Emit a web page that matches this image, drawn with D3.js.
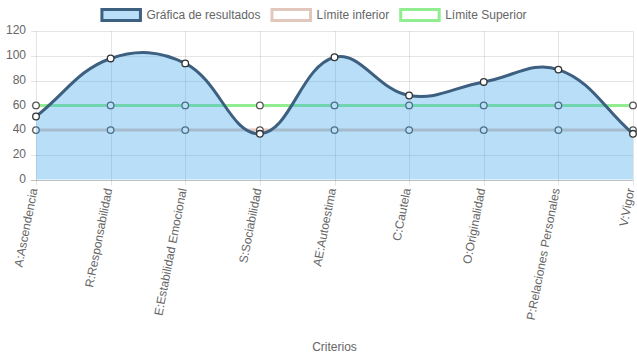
<!DOCTYPE html>
<html><head><meta charset="utf-8">
<script src="https://cdn.jsdelivr.net/npm/d3@7"></script>
<style>body{margin:0;background:#fff}svg{display:block;font-family:"Liberation Sans",Arial,Helvetica,sans-serif}</style>
</head><body>
<svg id="c" width="637" height="359"></svg>
<script>
const categories = ["A:Ascendencia","R:Responsabilidad","E:Estabilidad Emocional","S:Sociabilidad","AE:Autoestima","C:Cautela","O:Originalidad","P:Relaciones Personales","V:Vigor"];
const resultados = [51, 98, 94, 37, 99, 68, 79, 89, 37];
const limiteInferior = [40, 40, 40, 40, 40, 40, 40, 40, 40];
const limiteSuperior = [60, 60, 60, 60, 60, 60, 60, 60, 60];
const yTicks = [0, 20, 40, 60, 80, 100, 120];
const seriesNames = ["Gráfica de resultados", "Límite inferior", "Límite Superior"];
const axisTitle = "Criterios";

const svg = d3.select("#c");
const L = 36, R = 633, T = 31.3, B = 179.5;
const x = d3.scalePoint().domain(categories).range([L, R]);
const y = d3.scaleLinear().domain([0, 120]).range([B, T]);
const txt = "#666";

// grid
const g = svg.append("g");
yTicks.forEach(v => {
  g.append("line").attr("x1", L - 5).attr("x2", R).attr("y1", Math.round(y(v)) + 0.5).attr("y2", Math.round(y(v)) + 0.5)
    .attr("stroke", v === 0 ? "rgba(0,0,0,0.25)" : "rgba(0,0,0,0.1)");
  g.append("text").attr("x", L - 10).attr("y", y(v)).attr("text-anchor", "end").attr("dominant-baseline", "middle")
    .attr("font-size", 12).attr("fill", txt).text(v);
});
categories.forEach(c => {
  const px = Math.round(x(c)) + 0.5;
  g.append("line").attr("x1", px).attr("x2", px).attr("y1", T).attr("y2", B + 6).attr("stroke", "rgba(0,0,0,0.1)");
  g.append("text").attr("transform", `translate(${x(c) - 1.5},${B + 9}) rotate(-79)`)
    .attr("text-anchor", "end").attr("dominant-baseline", "middle").attr("font-size", 12).attr("fill", txt).text(c);
});
svg.append("text").attr("x", (L + R) / 2).attr("y", 347.5).attr("text-anchor", "middle").attr("dominant-baseline", "middle")
  .attr("font-size", 12).attr("fill", txt).text(axisTitle);

// Chart.js-like spline
function splinePath(pts, t, close) {
  const cps = pts.map((cur, i) => {
    const prev = i === 0 ? cur : pts[i - 1];
    const next = i === pts.length - 1 ? cur : pts[i + 1];
    const d01 = Math.hypot(cur[0] - prev[0], cur[1] - prev[1]);
    const d12 = Math.hypot(next[0] - cur[0], next[1] - cur[1]);
    let s01 = d01 / (d01 + d12), s12 = d12 / (d01 + d12);
    if (isNaN(s01)) s01 = 0; if (isNaN(s12)) s12 = 0;
    const fa = t * s01, fb = t * s12;
    const cp = {
      p: [cur[0] - fa * (next[0] - prev[0]), cur[1] - fa * (next[1] - prev[1])],
      n: [cur[0] + fb * (next[0] - prev[0]), cur[1] + fb * (next[1] - prev[1])]
    };
    [cp.p, cp.n].forEach(q => { q[0] = Math.max(L, Math.min(R, q[0])); q[1] = Math.max(T, Math.min(B, q[1])); });
    return cp;
  });
  const p = d3.path();
  p.moveTo(pts[0][0], pts[0][1]);
  for (let i = 1; i < pts.length; i++) {
    p.bezierCurveTo(cps[i - 1].n[0], cps[i - 1].n[1], cps[i].p[0], cps[i].p[1], pts[i][0], pts[i][1]);
  }
  if (close) {
    p.lineTo(pts[pts.length - 1][0], y(0));
    p.lineTo(pts[0][0], y(0));
    p.closePath();
  }
  return p.toString();
}

const datasets = [
  {name: seriesNames[2], data: limiteSuperior, stroke: "rgb(144,238,144)", fill: null, pb: "#555"},
  {name: seriesNames[1], data: limiteInferior, stroke: "rgb(226,200,188)", fill: null, pb: "#555"},
  {name: seriesNames[0], data: resultados, stroke: "#3d5f80", fill: "rgba(54,162,235,0.35)", pb: "#333"}
];
const plot = svg.append("g");
datasets.forEach(ds => {
  const pts = categories.map((c, i) => [x(c), y(ds.data[i])]);
  if (ds.fill) plot.append("path").attr("d", splinePath(pts, 0.4, true)).attr("fill", ds.fill).attr("stroke", "none");
  plot.append("path").attr("d", splinePath(pts, 0.4, false)).attr("fill", "none").attr("stroke", ds.stroke).attr("stroke-width", 3);
  plot.selectAll(null).data(pts).enter().append("circle")
    .attr("cx", d => d[0]).attr("cy", d => d[1]).attr("r", 3.3)
    .attr("fill", "#fff").attr("stroke", ds.pb).attr("stroke-width", 1.3);
});

// legend
const legendItems = [
  {name: seriesNames[0], fill: "rgba(54,162,235,0.35)", stroke: "#3d5f80"},
  {name: seriesNames[1], fill: "#fff", stroke: "rgb(226,200,188)"},
  {name: seriesNames[2], fill: "#fff", stroke: "rgb(144,238,144)"}
];
const lg = svg.append("g");
const widths = legendItems.map(it => {
  const t = lg.append("text").attr("font-size", 12).text(it.name);
  const w = t.node().getComputedTextLength(); t.remove(); return 40 + 6 + w;
});
const total = d3.sum(widths) + 10 * (widths.length - 1);
let cx = 313.5 - total / 2;
legendItems.forEach((it, i) => {
  lg.append("rect").attr("x", cx + 1.5).attr("y", 9.5).attr("width", 38.5).attr("height", 11)
    .attr("fill", it.fill).attr("stroke", it.stroke).attr("stroke-width", 3);
  lg.append("text").attr("x", cx + 46).attr("y", 15.5).attr("dominant-baseline", "middle")
    .attr("font-size", 12).attr("fill", txt).text(it.name);
  cx += widths[i] + 10;
});
</script>
</body></html>
